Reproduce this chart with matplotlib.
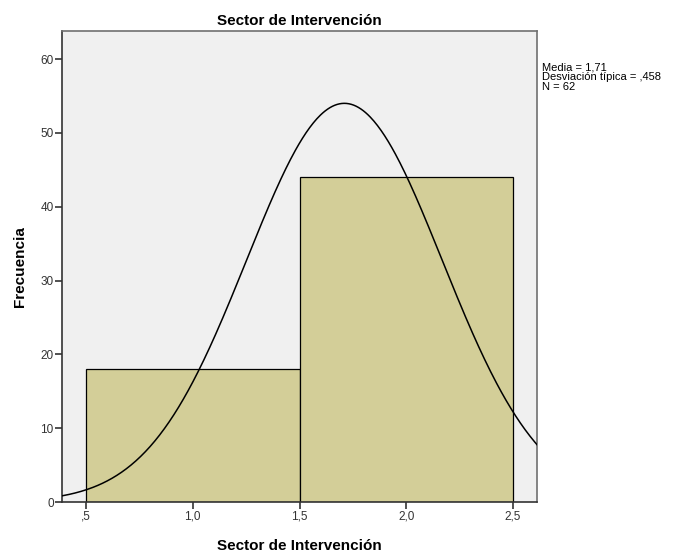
import numpy as np
import matplotlib
matplotlib.use("Agg")
import matplotlib.pyplot as plt

# Data
bin_edges = [0.5, 1.5, 2.5]
frequencies = [18, 44]
mean = 1.71
std = 0.458
n = 62
x_ticks = [0.5, 1.0, 1.5, 2.0, 2.5]
x_tick_labels = [",5", "1,0", "1,5", "2,0", "2,5"]
y_ticks = [0, 10, 20, 30, 40, 50, 60]

plt.rcParams['font.family'] = ['Liberation Sans', 'DejaVu Sans']

fig = plt.figure(figsize=(6.79, 5.57), dpi=100)
ax = fig.add_axes([0.0913, 0.0987, 0.6996, 0.8456])
ax.set_facecolor('#f0f0f0')

widths = np.diff(bin_edges)
ax.bar(bin_edges[:-1], frequencies, width=widths, align='edge',
       color='#d3ce98', edgecolor='black', linewidth=0.9, zorder=2)

xs = np.linspace(0.388, 2.612, 400)
bw = widths[0]
ys = n * bw / (std * np.sqrt(2 * np.pi)) * np.exp(-0.5 * ((xs - mean) / std) ** 2)
ax.plot(xs, ys, color='black', linewidth=1.1, zorder=3)

ax.set_xlim(0.388, 2.612)
ax.set_ylim(0, 63.8)
ax.set_xticks(x_ticks)
ax.set_xticklabels(x_tick_labels)
ax.set_yticks(y_ticks)
ax.tick_params(axis='both', direction='out', length=5, width=1.2, labelsize=8.5,
               colors='#333333', pad=1)
for s in ax.spines.values():
    s.set_color('#707070')
    s.set_linewidth(1.2)
ax.spines['left'].set_color('#333333')
ax.spines['bottom'].set_color('#333333')

ax.set_title('Sector de Intervención', fontsize=11, fontweight='bold', pad=4)
ax.set_xlabel('Sector de Intervención', fontsize=11, fontweight='bold', labelpad=12)
ax.set_ylabel('Frecuencia', fontsize=11, fontweight='bold', labelpad=10)

fig.text(542 / 679, 1 - 62 / 557,
         'Media = 1,71\nDesviación típica = ,458\nN = 62',
         fontsize=8, va='top', ha='left', linespacing=1.0)

fig.savefig('out.png', dpi=100)
